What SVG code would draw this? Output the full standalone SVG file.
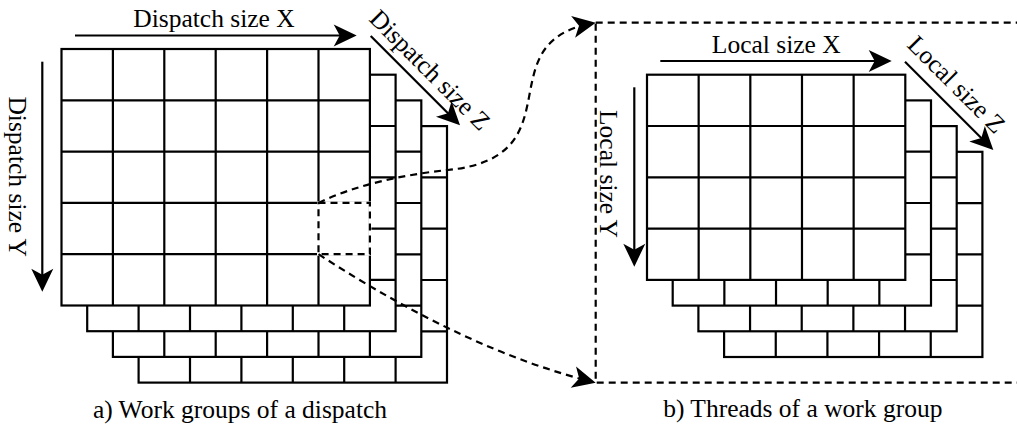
<svg xmlns="http://www.w3.org/2000/svg" xmlns:xlink="http://www.w3.org/1999/xlink" width="1017" height="425" viewBox="0 0 1017 425">
<style>
.cell{fill:#fff;stroke:#000;stroke-width:2.2}
.gl{fill:none;stroke:#000;stroke-width:2.2}
.arr{fill:none;stroke:#000;stroke-width:2.2;marker-end:url(#ah)}
.dash{fill:none;stroke:#000;stroke-width:2.2;stroke-dasharray:7 5}
.dasharr{fill:none;stroke:#000;stroke-width:2.2;stroke-dasharray:7 5;marker-end:url(#ah)}
text{font-family:"Liberation Serif","Times New Roman",serif;font-size:25.5px;fill:#000}
</style>
<defs>
<marker id="ah" markerUnits="userSpaceOnUse" markerWidth="40" markerHeight="40" refX="0" refY="0" orient="auto" overflow="visible">
<path d="M4,0 L-19,-11 L-13,0 L-19,11 Z" fill="#000"/>
</marker>
<g id="gridL">
<rect class="cell" x="0" y="0" width="308.4" height="256.5"/>
<path class="gl" d="M51.4 0V256.5M102.8 0V256.5M154.2 0V256.5M205.6 0V256.5M257 0V256.5M0 51.3H308.4M0 102.6H308.4M0 153.9H308.4M0 205.2H308.4"/>
</g>
<g id="gridR">
<rect class="cell" x="0" y="0" width="258.3" height="205.2"/>
<path class="gl" d="M51.66 0V205.2M103.32 0V205.2M154.98 0V205.2M206.64 0V205.2M0 51.3H258.3M0 102.6H258.3M0 153.9H258.3"/>
</g>
</defs>
<rect width="1017" height="425" fill="#fff"/>

<g id="dispatch-grid">
<use xlink:href="#gridL" x="138.6" y="126.1"/>
<use xlink:href="#gridL" x="112.9" y="100.4"/>
<use xlink:href="#gridL" x="87.2" y="74.7"/>
<use xlink:href="#gridL" x="61.5" y="49"/>
</g>

<g id="selected-workgroup">
<rect x="318.5" y="202.9" width="51.4" height="51.3" fill="none" stroke="#fff" stroke-width="3"/>
<rect class="dash" x="318.5" y="202.9" width="51.4" height="51.3"/>
</g>

<g id="workgroup-box">
<rect class="dash" x="595.7" y="22.7" width="460" height="360"/>
</g>

<g id="thread-grid">
<use xlink:href="#gridR" x="724.1" y="151.8"/>
<use xlink:href="#gridR" x="698.4" y="126.1"/>
<use xlink:href="#gridR" x="672.7" y="100.4"/>
<use xlink:href="#gridR" x="647" y="74.7"/>
</g>

<g id="connectors">
<path class="arr" d="M75 35.5H352.7"/>
<path class="arr" d="M42.3 61.7V287.7"/>
<path class="arr" d="M370.7 36L457.2 122.5"/>
<path class="arr" d="M660.3 61H887.7"/>
<path class="arr" d="M634.3 87.3V262.7"/>
<path class="arr" d="M905 61.7L990.5 147.2"/>
<path class="dasharr" d="M318.5 202.9C355 185 405 174.3 448 170C578 157 485 43 591.8 23.4"/>
<path class="dasharr" d="M318.5 254.2Q466.5 350.4 591.8 381.7"/>
</g>

<g id="labels">
<text x="214" y="26.5" text-anchor="middle">Dispatch size X</text>
<text transform="translate(9,176.7) rotate(90)" text-anchor="middle">Dispatch size Y</text>
<text transform="translate(424,76) rotate(45)" text-anchor="middle">Dispatch size Z</text>
<text x="776.3" y="52.7" text-anchor="middle">Local size X</text>
<text transform="translate(600,174) rotate(90)" text-anchor="middle">Local size Y</text>
<text transform="translate(950.5,90.5) rotate(45)" text-anchor="middle">Local size Z</text>
<text x="240" y="417.5" text-anchor="middle">a) Work groups of a dispatch</text>
<text x="802.8" y="416.7" text-anchor="middle">b) Threads of a work group</text>
</g>
</svg>
